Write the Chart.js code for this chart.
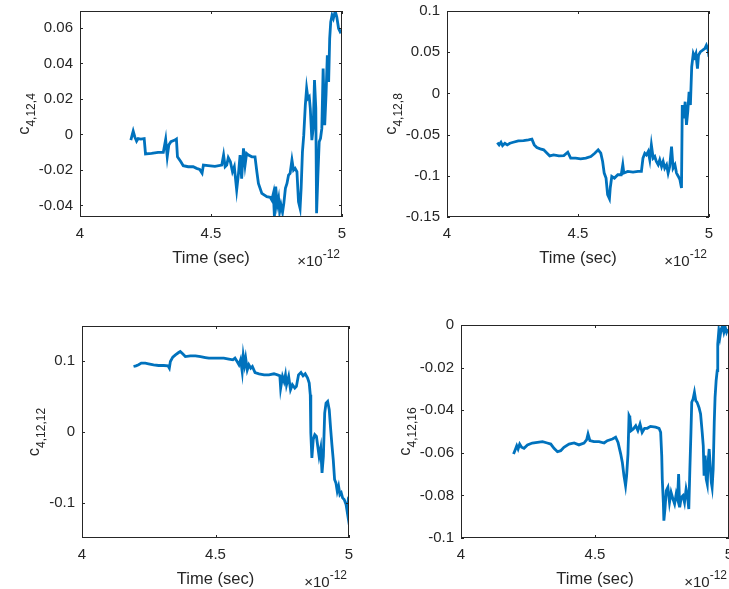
<!DOCTYPE html>
<html lang="en">
<head>
<meta charset="UTF-8">
<title>c coefficients vs time</title>
<script src="https://cdn.jsdelivr.net/npm/chart.js"></script>
<style>
  html, body {
    margin: 0;
    padding: 0;
    background: #fff;
    width: 729px;
    height: 589px;
    overflow: hidden;
  }
  .panel { position: absolute; }
</style>
</head>
<body>

<div class="panel" style="left:0px;top:1px"><canvas id="c4" width="354" height="268"></canvas></div>
<div class="panel" style="left:367px;top:1px"><canvas id="c8" width="354" height="268"></canvas></div>
<div class="panel" style="left:2px;top:316px"><canvas id="c12" width="359" height="274"></canvas></div>
<div class="panel" style="left:381px;top:315px"><canvas id="c16" width="360" height="275"></canvas></div>

<script>
// time in units of 1e-12 s
const xTicks = [4, 4.5, 5];

const time4 = [4.194,4.203,4.209,4.216,4.222,4.232,4.245,4.250,4.273,4.298,
  4.318,4.327,4.333,4.339,4.347,4.362,4.368,4.372,4.385,4.394,
  4.413,4.432,4.445,4.457,4.466,4.471,4.489,4.515,4.541,4.548,
  4.554,4.560,4.566,4.574,4.582,4.589,4.598,4.605,4.611,4.617,
  4.624,4.630,4.636,4.643,4.656,4.668,4.675,4.681,4.694,4.713,
  4.726,4.732,4.738,4.742,4.747,4.753,4.758,4.762,4.767,4.773,
  4.778,4.784,4.790,4.796,4.802,4.809,4.815,4.821,4.828,4.834,
  4.840,4.844,4.849,4.854,4.860,4.865,4.870,4.875,4.879,4.885,
  4.890,4.895,4.900,4.903,4.908,4.913,4.918,4.923,4.928,4.934,
  4.939,4.944,4.949,4.953,4.957,4.962,4.967,4.974,4.980,4.987,
  4.993,4.999];
const coef4 = [-0.0032,0.0019,-0.0013,-0.0038,-0.0023,-0.0026,-0.0023,-0.011,-0.0107,-0.0101,
  -0.0101,-0.0028,-0.0126,-0.006,-0.0041,-0.0032,-0.0026,-0.0126,-0.0154,-0.0176,
  -0.0182,-0.0182,-0.0191,-0.0197,-0.0218,-0.0173,-0.0176,-0.018,-0.0173,-0.0116,
  -0.0182,-0.0173,-0.0131,-0.0154,-0.021,-0.0182,-0.0313,-0.0219,-0.0116,-0.0249,
  -0.0079,-0.0173,-0.0107,-0.0116,-0.0126,-0.0126,-0.021,-0.0276,-0.0332,-0.0351,
  -0.0354,-0.0369,-0.0332,-0.0463,-0.0294,-0.0397,-0.036,-0.0435,-0.0397,-0.0439,
  -0.0388,-0.0304,-0.0276,-0.0229,-0.0219,-0.0144,-0.0201,-0.0191,-0.021,-0.0379,
  -0.0416,-0.0304,-0.0098,-0.0004,0.0165,0.0259,0.0203,0.0212,0.0146,-0.0032,
  0.0034,0.0306,0.0146,-0.0444,-0.0229,-0.0041,-0.0023,0.0034,0.0371,0.0052,
  0.0221,0.0446,0.0296,0.054,0.0634,0.0671,0.0653,0.0694,0.0662,0.0596,
  0.0578,0.0587];
const yTicks4 = [-0.04, -0.02, 0, 0.02, 0.04, 0.06];

const time8 = [4.192,4.199,4.206,4.212,4.221,4.230,4.240,4.253,4.272,4.292,
  4.311,4.324,4.333,4.343,4.356,4.369,4.382,4.392,4.407,4.427,
  4.446,4.461,4.472,4.491,4.510,4.530,4.549,4.564,4.577,4.587,
  4.594,4.600,4.607,4.613,4.620,4.623,4.629,4.639,4.652,4.665,
  4.671,4.675,4.690,4.710,4.729,4.742,4.748,4.755,4.761,4.768,
  4.774,4.780,4.787,4.793,4.799,4.806,4.812,4.819,4.825,4.831,
  4.838,4.844,4.850,4.857,4.863,4.870,4.876,4.883,4.889,4.895,
  4.898,4.904,4.909,4.914,4.919,4.924,4.929,4.934,4.940,4.945,
  4.950,4.956,4.960,4.967,4.976,4.984,4.990,4.997,5.000];
const coef8 = [-0.0597,-0.0625,-0.0593,-0.0633,-0.0605,-0.0625,-0.0605,-0.0593,-0.0576,-0.0572,
  -0.0564,-0.0556,-0.0625,-0.0657,-0.0673,-0.0685,-0.0726,-0.0758,-0.0746,-0.0758,
  -0.0754,-0.0714,-0.0786,-0.0786,-0.0794,-0.0786,-0.0766,-0.0726,-0.0685,-0.0726,
  -0.0826,-0.0967,-0.1028,-0.1229,-0.1278,-0.1149,-0.1008,-0.1028,-0.0987,-0.0987,
  -0.0866,-0.0967,-0.0947,-0.0955,-0.0947,-0.0947,-0.0786,-0.0726,-0.0746,-0.0705,
  -0.0806,-0.0625,-0.0786,-0.0766,-0.0826,-0.0866,-0.0806,-0.0887,-0.0826,-0.0907,
  -0.0866,-0.0967,-0.0887,-0.0645,-0.0907,-0.0866,-0.0967,-0.1008,-0.1048,-0.1149,
  -0.0141,-0.0302,-0.0101,-0.0383,-0.0222,0.002,-0.0141,0.0322,0.0484,0.0443,
  0.0484,0.0302,0.0463,0.0504,0.0524,0.0544,0.0584,0.0524,0.0443];
const yTicks8 = [-0.15, -0.1, -0.05, 0, 0.05, 0.1];

const time12 = [4.193,4.202,4.212,4.222,4.237,4.249,4.268,4.287,4.306,4.322,
  4.327,4.331,4.340,4.350,4.362,4.368,4.377,4.387,4.406,4.425,
  4.444,4.462,4.475,4.494,4.513,4.531,4.550,4.565,4.573,4.581,
  4.588,4.594,4.600,4.604,4.609,4.613,4.619,4.625,4.632,4.638,
  4.648,4.663,4.682,4.700,4.719,4.732,4.741,4.744,4.751,4.757,
  4.762,4.766,4.774,4.781,4.788,4.797,4.803,4.811,4.820,4.828,
  4.836,4.845,4.851,4.855,4.857,4.861,4.866,4.872,4.878,4.883,
  4.888,4.894,4.899,4.904,4.909,4.914,4.920,4.926,4.931,4.936,
  4.941,4.946,4.951,4.956,4.961,4.966,4.971,4.976,4.982,4.989,
  4.994,4.997,5.000];
const coef12 = [0.0927,0.0936,0.0951,0.0974,0.0974,0.0965,0.0951,0.0941,0.0941,0.0936,
  0.0904,0.0998,0.1059,0.1092,0.1125,0.1139,0.1106,0.1068,0.1078,0.1078,
  0.1068,0.1054,0.1045,0.1045,0.1045,0.1045,0.1031,0.1021,0.1045,0.0998,
  0.0951,0.1021,0.0856,0.1078,0.0951,0.1045,0.088,0.0951,0.0904,0.0927,
  0.0842,0.0824,0.0809,0.0809,0.0824,0.0809,0.0795,0.0621,0.0786,0.0715,
  0.0809,0.0668,0.0786,0.0598,0.0668,0.0621,0.0645,0.0809,0.0842,0.0795,
  0.0824,0.0762,0.0692,0.0527,-0.0014,-0.0367,-0.0108,-0.0038,-0.0061,-0.0202,
  -0.0344,-0.0226,-0.0579,-0.0344,0.0268,0.0409,0.0433,0.0315,0.0056,-0.0179,
  -0.0391,-0.0673,-0.072,-0.0838,-0.0767,-0.0885,-0.0861,-0.0932,-0.0955,-0.1026,
  -0.1144,-0.0979,-0.1002];
const yTicks12 = [-0.1, 0, 0.1];

const time16 = [4.196,4.201,4.208,4.213,4.219,4.226,4.235,4.248,4.266,4.285,
  4.304,4.322,4.335,4.347,4.360,4.372,4.384,4.403,4.422,4.440,
  4.459,4.469,4.474,4.481,4.496,4.515,4.534,4.546,4.565,4.577,
  4.586,4.596,4.602,4.608,4.614,4.618,4.623,4.627,4.630,4.635,
  4.643,4.652,4.660,4.668,4.676,4.685,4.695,4.707,4.726,4.739,
  4.745,4.749,4.751,4.755,4.757,4.761,4.766,4.772,4.778,4.784,
  4.791,4.797,4.803,4.808,4.812,4.816,4.822,4.828,4.834,4.840,
  4.845,4.850,4.854,4.858,4.861,4.866,4.871,4.876,4.881,4.888,
  4.894,4.900,4.904,4.907,4.911,4.915,4.919,4.922,4.926,4.930,
  4.934,4.937,4.941,4.945,4.948,4.952,4.956,4.958,4.962,4.966,
  4.971,4.976,4.981,4.986,4.991,4.996];
const coef16 = [-0.0606,-0.059,-0.0567,-0.0582,-0.0559,-0.0574,-0.0579,-0.0563,-0.0554,-0.0551,
  -0.0548,-0.0554,-0.0559,-0.0579,-0.0595,-0.059,-0.0574,-0.0559,-0.0554,-0.0563,
  -0.0554,-0.0538,-0.0512,-0.0543,-0.0548,-0.0548,-0.0554,-0.0543,-0.0535,-0.0527,
  -0.0551,-0.0606,-0.0645,-0.0707,-0.0754,-0.0707,-0.0606,-0.0426,-0.0434,-0.0496,
  -0.0488,-0.0473,-0.0496,-0.0465,-0.0504,-0.0485,-0.0485,-0.0476,-0.048,-0.0485,
  -0.0504,-0.0613,-0.0723,-0.0833,-0.0919,-0.0864,-0.0778,-0.0762,-0.0833,-0.0786,
  -0.0817,-0.084,-0.0793,-0.0817,-0.07,-0.0856,-0.0809,-0.0801,-0.0833,-0.077,
  -0.0801,-0.0864,-0.0676,-0.0504,-0.0363,-0.0347,-0.0316,-0.0355,-0.0363,-0.0387,
  -0.0418,-0.0504,-0.0567,-0.0707,-0.0613,-0.0723,-0.0747,-0.0645,-0.0582,-0.066,
  -0.0739,-0.0762,-0.0676,-0.0457,-0.034,-0.0261,-0.0214,-0.0089,-0.0027,-0.0058,
  -0.0019,-0.0003,-0.0034,-0.0011,-0.0034,-0.0019];
const yTicks16 = [-0.1, -0.08, -0.06, -0.04, -0.02, 0];

const FAMILY = '"Liberation Sans", Arial, sans-serif';
const TEXT = '#262626';
const LINE = '#0072BD';

function fmt(v) {
  return String(Number(v.toFixed(4)));
}

// kill the extra room chart.js reserves for half-labels at the scale ends
function noEdgePad(s) {
  s.paddingTop = 0;
  s.paddingBottom = 0;
  s.paddingLeft = 0;
  s.paddingRight = 0;
}

// box, inward ticks on all sides, ylabel with subscript, x exponent
const matlabAxes = {
  id: 'matlabAxes',
  afterDraw(chart, args, opts) {
    const ctx = chart.ctx;
    const a = chart.chartArea;
    const xs = chart.scales.x, ys = chart.scales.y;
    ctx.save();
    ctx.strokeStyle = TEXT;
    ctx.lineWidth = 1;
    ctx.strokeRect(Math.round(a.left) + 0.5, Math.round(a.top) + 0.5,
      Math.round(a.right - a.left) - 1, Math.round(a.bottom - a.top) - 1);
    ctx.beginPath();
    xs.ticks.forEach(t => {
      const p = Math.round(xs.getPixelForValue(t.value)) + 0.5;
      ctx.moveTo(p, a.bottom); ctx.lineTo(p, a.bottom - 3);
      ctx.moveTo(p, a.top); ctx.lineTo(p, a.top + 3);
    });
    ys.ticks.forEach(t => {
      const p = Math.round(ys.getPixelForValue(t.value)) + 0.5;
      ctx.moveTo(a.left, p); ctx.lineTo(a.left + 3, p);
      ctx.moveTo(a.right, p); ctx.lineTo(a.right - 3, p);
    });
    ctx.stroke();

    ctx.fillStyle = TEXT;
    ctx.font = '15px ' + FAMILY;
    const widest = Math.max(...ys.ticks.map(t => ctx.measureText(fmt(t.value)).width));
    const base = a.left - 7 - widest - 10;
    const mainFont = '16.5px ' + FAMILY, subFont = '12px ' + FAMILY;
    ctx.font = mainFont;
    const wc = ctx.measureText('c').width;
    ctx.font = subFont;
    const ws = ctx.measureText(opts.sub).width;
    ctx.save();
    ctx.translate(base, (a.top + a.bottom) / 2);
    ctx.rotate(-Math.PI / 2);
    ctx.textAlign = 'left';
    ctx.textBaseline = 'alphabetic';
    const x0 = -(wc + ws) / 2;
    ctx.font = mainFont;
    ctx.fillText('c', x0, 0);
    ctx.font = subFont;
    ctx.fillText(opts.sub, x0 + wc, 6);
    ctx.restore();

    // x10^-12
    ctx.textAlign = 'left';
    ctx.textBaseline = 'alphabetic';
    ctx.font = subFont;
    const we = ctx.measureText('-12').width;
    ctx.font = '15px ' + FAMILY;
    const wm = ctx.measureText('\u00D710').width;
    const start = a.right - 2 - we - wm;
    ctx.fillText('\u00D710', start, a.bottom + 49);
    ctx.font = subFont;
    ctx.fillText('-12', start + wm, a.bottom + 41);
    ctx.restore();
  }
};

function makePanel(id, times, coefs, yMin, yMax, yTicks, sub) {
  const pts = times.map((t, i) => ({ x: t, y: coefs[i] }));
  return new Chart(document.getElementById(id), {
    type: 'line',
    data: {
      datasets: [{
        data: pts,
        borderColor: LINE,
        borderWidth: 2.8,
        pointRadius: 0,
        tension: 0,
        fill: false
      }]
    },
    options: {
      responsive: false,
      animation: false,
      layout: { padding: { top: 10, right: 12, left: 0, bottom: 0 } },
      plugins: {
        legend: { display: false },
        tooltip: { enabled: false },
        matlabAxes: { sub: sub }
      },
      scales: {
        x: {
          type: 'linear',
          min: 4,
          max: 5,
          grid: { display: false, drawTicks: false },
          border: { display: false },
          afterBuildTicks: s => { s.ticks = xTicks.map(v => ({ value: v })); },
          afterFit: s => { s.height = 52; noEdgePad(s); },
          ticks: {
            color: TEXT,
            font: { family: FAMILY, size: 15 },
            padding: 8,
            maxRotation: 0,
            autoSkip: false,
            callback: v => fmt(v)
          },
          title: {
            display: true,
            text: 'Time (sec)',
            color: TEXT,
            font: { family: FAMILY, size: 16.5 },
            padding: { top: 0, bottom: 1 }
          }
        },
        y: {
          type: 'linear',
          min: yMin,
          max: yMax,
          grid: { display: false, drawTicks: false },
          border: { display: false },
          afterBuildTicks: s => { s.ticks = yTicks.map(v => ({ value: v })); },
          afterFit: s => { s.width = 80; noEdgePad(s); },
          ticks: {
            color: TEXT,
            font: { family: FAMILY, size: 15 },
            padding: 7,
            autoSkip: false,
            callback: v => fmt(v)
          }
        }
      }
    },
    plugins: [matlabAxes]
  });
}

makePanel('c4', time4, coef4, -0.0465, 0.0695, yTicks4, '4,12,4');
makePanel('c8', time8, coef8, -0.15, 0.1, yTicks8, '4,12,8');
makePanel('c12', time12, coef12, -0.15, 0.15, yTicks12, '4,12,12');
makePanel('c16', time16, coef16, -0.1, 0, yTicks16, '4,12,16');
</script>

</body>
</html>
